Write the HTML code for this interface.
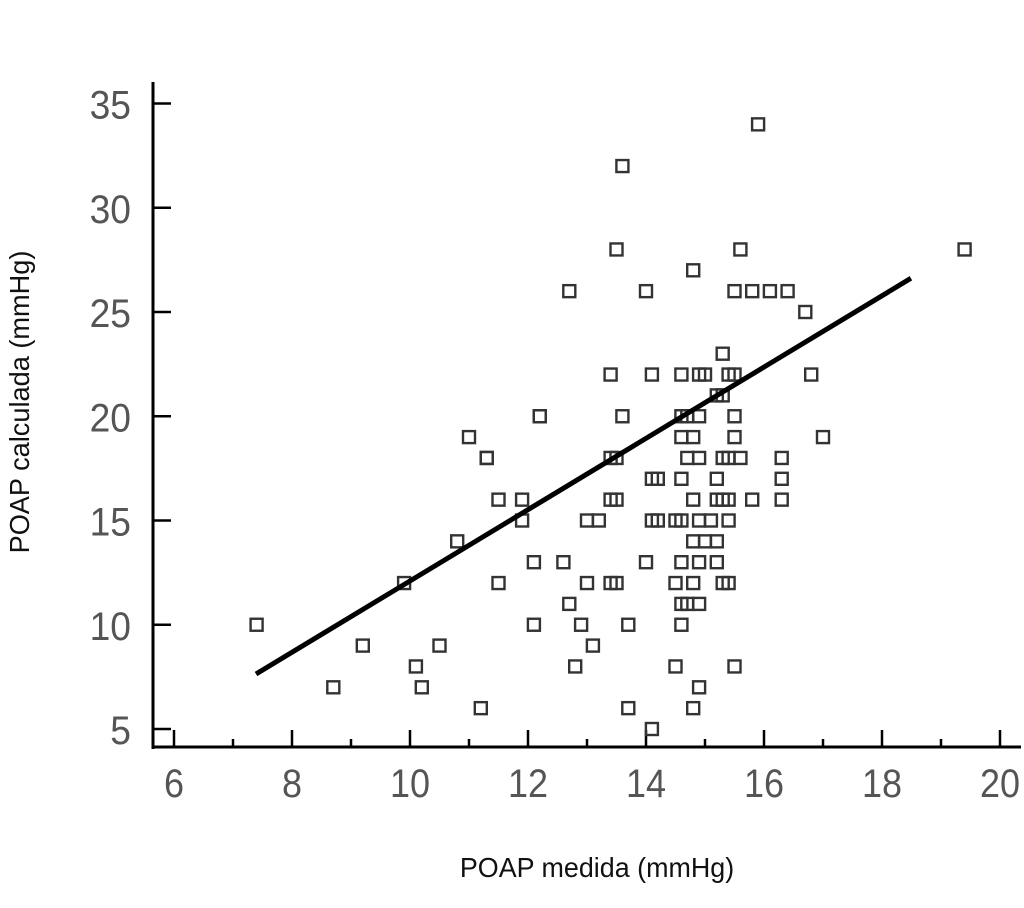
<!DOCTYPE html>
<html><head><meta charset="utf-8"><style>
html,body{margin:0;padding:0;background:#fff;}
svg{display:block;}
.tk{font-family:"Liberation Sans",sans-serif;font-size:40px;fill:#555;}
.ttl{font-family:"Liberation Sans",sans-serif;font-size:28px;fill:#111;}
</style></head><body>
<svg id="chart" width="1024" height="908" viewBox="0 0 1024 908" xmlns="http://www.w3.org/2000/svg"></svg>
<script>
const xTicks=[6,8,10,12,14,16,18,20];
const yTicks=[5,10,15,20,25,30,35];
const xs=[7.4,8.7,9.2,9.9,10.1,10.2,10.5,10.8,11.0,11.3,12.2,
15.9,13.6,13.5,15.6,19.4,14.8,12.7,14.0,15.5,15.8,16.1,16.4,16.7,
15.3,
13.4,14.1,14.6,14.9,15.0,15.4,15.5,16.8,
15.2,15.3,
12.2,13.6,14.6,14.7,14.9,15.5,
14.6,14.8,15.5,17.0,
11.3,13.4,13.5,14.7,14.9,15.3,15.4,15.6,16.3,
14.1,14.2,14.6,15.2,16.3,
11.5,11.9,13.4,13.5,14.8,15.2,15.3,15.4,15.8,16.3,
11.9,13.0,13.2,14.1,14.2,14.5,14.6,14.9,15.1,15.4,
14.8,15.0,15.2,
12.1,12.6,14.0,14.6,14.9,15.2,
11.5,13.0,13.4,13.5,14.5,14.8,15.3,15.4,
12.7,14.6,14.7,14.9,
12.1,12.9,13.7,14.6,
13.1,
12.8,14.5,15.5,
14.9,
11.2,13.7,14.8,
14.1];
const ys=[10,7,9,12,8,7,9,14,19,18,20,
34,32,28,28,28,27,26,26,26,26,26,26,25,
23,
22,22,22,22,22,22,22,22,
21,21,
20,20,20,20,20,20,
19,19,19,19,
18,18,18,18,18,18,18,18,18,
17,17,17,17,17,
16,16,16,16,16,16,16,16,16,16,
15,15,15,15,15,15,15,15,15,15,
14,14,14,
13,13,13,13,13,13,
12,12,12,12,12,12,12,12,
11,11,11,11,
10,10,10,10,
9,
8,8,8,
7,
6,6,6,
5];
const fitSlope=1.71, fitIntercept=-5.0, fitRange=[7.39,18.49];
const NS="http://www.w3.org/2000/svg";
const svg=document.getElementById('chart');
const X=v=>174+(v-6)*59;
const Y=v=>729-(v-5)*20.85;
function mk(t,a){const e=document.createElementNS(NS,t);for(const k in a)e.setAttribute(k,a[k]);svg.appendChild(e);return e;}
let ya=mk('line',{x1:153,y1:82,x2:153,y2:749,stroke:'#000','stroke-width':3});


let xa=mk('line',{x1:151.5,y1:747,x2:1021,y2:747,stroke:'#000','stroke-width':3});


yTicks.forEach(v=>{
  let l=mk('line',{x1:153,y1:Y(v),x2:171,y2:Y(v),stroke:'#000','stroke-width':2.5});
  
  
  let t=mk('text',{x:0,y:0,'text-anchor':'end',class:'tk',transform:`translate(131,${Y(v)+15}) scale(0.93,1)`});t.textContent=v;
  
  
});
for(let v=6;v<=20;v++){
  const major=v%2===0;
  let l=mk('line',{x1:X(v),y1:747,x2:X(v),y2:major?730:739,stroke:'#000','stroke-width':2.5});
  
  
}
xTicks.forEach(v=>{
  let t=mk('text',{x:0,y:0,'text-anchor':'middle',class:'tk',transform:`translate(${X(v)},797) scale(0.9,1)`});t.textContent=v;
  
  
});
xs.forEach((v,i)=>{
  let r=mk('rect',{x:X(v)-6,y:Y(ys[i])-6,width:12,height:12,fill:'none',stroke:'#333','stroke-width':2.4});
  
  
});
let fl=mk('line',{x1:X(fitRange[0]),y1:Y(fitSlope*fitRange[0]+fitIntercept),x2:X(fitRange[1]),y2:Y(fitSlope*fitRange[1]+fitIntercept),stroke:'#000','stroke-width':5});


let xt=mk('text',{x:0,y:0,'text-anchor':'middle',class:'ttl',transform:'translate(597,877) scale(0.96,1)'});xt.textContent='POAP medida (mmHg)';


let yt=mk('text',{x:0,y:0,'text-anchor':'middle',class:'ttl',transform:'translate(29,402) rotate(-90) scale(0.97,1)'});yt.textContent='POAP calculada (mmHg)';


</script>
</body></html>
